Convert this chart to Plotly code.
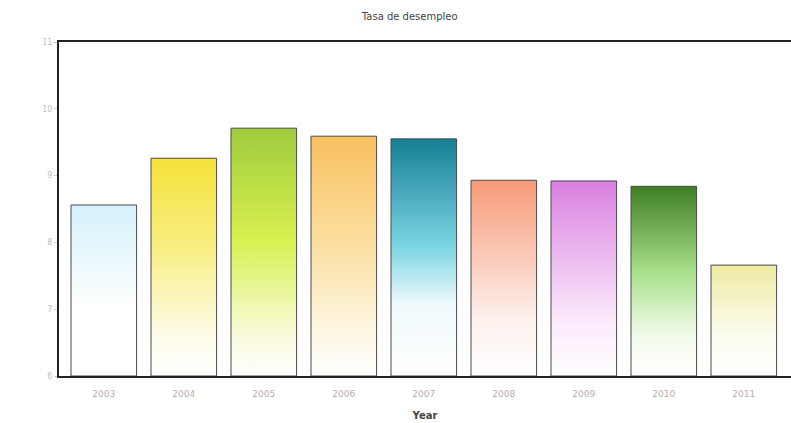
import plotly.graph_objects as go

years = [2003, 2004, 2005, 2006, 2007, 2008, 2009, 2010, 2011]
rates = [8.56, 9.26, 9.71, 9.59, 9.55, 8.93, 8.92, 8.84, 7.66]
y_ticks = [6, 7, 8, 9, 10, 11]

scales = [
    [[0, '#ffffff'], [0.4, '#ffffff'], [1, '#d4f2fa']],
    [[0, '#ffffff'], [0.2, '#fdfbe6'], [0.6, '#f8ee80'], [1, '#f6e23a']],
    [[0, '#ffffff'], [0.15, '#fbfbe0'], [0.55, '#d8f050'], [1, '#9fcc3c']],
    [[0, '#ffffff'], [0.2, '#fdf6e0'], [0.6, '#fbdc98'], [1, '#f8c060']],
    [[0, '#ffffff'], [0.3, '#f0fafd'], [0.55, '#7ad4e2'], [1, '#167f94']],
    [[0, '#ffffff'], [0.3, '#fdf0ec'], [1, '#f79a78']],
    [[0, '#ffffff'], [0.3, '#fbe8fb'], [1, '#d880e0']],
    [[0, '#ffffff'], [0.2, '#f4fcee'], [0.55, '#a8e08a'], [1, '#3f7e25']],
    [[0, '#ffffff'], [0.35, '#fdfdf2'], [1, '#eeeaa2']],
]

half = 0.41
base = y_ticks[0]
fig = go.Figure()
for yr, v, cs in zip(years, rates, scales):
    fig.add_trace(go.Scatter(
        x=[yr - half, yr - half, yr + half, yr + half, yr - half],
        y=[base, v, v, base, base],
        mode='lines', fill='toself',
        fillgradient=dict(type='vertical', colorscale=cs),
        line=dict(color='#4a4a4a', width=1),
        hoverinfo='skip', showlegend=False,
    ))

fig.update_layout(
    width=791, height=423,
    margin=dict(l=59, r=0, t=42, b=47),
    paper_bgcolor='white', plot_bgcolor='white',
    title=dict(text='Tasa de desempleo', x=0.518, xanchor='center', y=0.96, yanchor='middle',
               font=dict(family='DejaVu Sans', size=10, color='#444')),
    font=dict(family='DejaVu Sans', size=9, color='#999'),
)
fig.update_xaxes(
    range=[2002.44, 2011.59],
    tickvals=years, ticktext=[str(y) for y in years],
    showgrid=False, zeroline=False,
    showline=True, linecolor='#222', linewidth=2, mirror=True,
    ticks='', ticklabelstandoff=8, tickfont=dict(size=9, color='#b0b0b0'),
    title=dict(text='<b>Year</b>', font=dict(family='DejaVu Sans', size=10, color='#444'), standoff=14),
)
fig.update_yaxes(
    range=[y_ticks[0], y_ticks[-1]], tickvals=y_ticks,
    showgrid=False, zeroline=False,
    showline=True, linecolor='#222', linewidth=2, mirror=False,
    ticks='outside', ticklen=3, tickcolor='#ccc',
    tickfont=dict(size=8, color='#c0c0c0'),
)
fig.write_html('out.html')
